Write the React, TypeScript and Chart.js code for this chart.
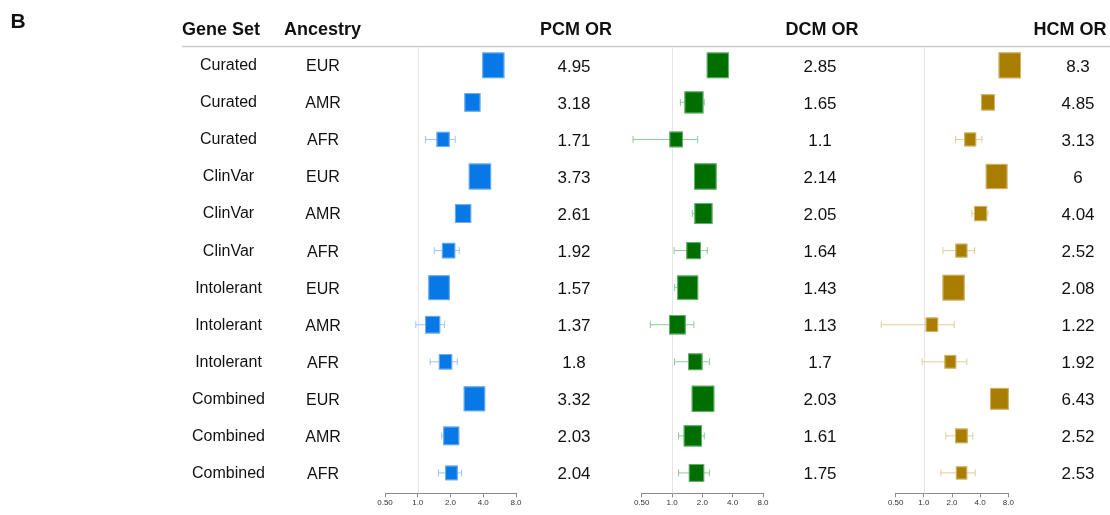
import { useEffect, useRef } from "react";
import { Chart, registerables } from "chart.js";

Chart.register(...registerables);

// ---------- data ----------
const geneSets = [
  "Curated", "Curated", "Curated",
  "ClinVar", "ClinVar", "ClinVar",
  "Intolerant", "Intolerant", "Intolerant",
  "Combined", "Combined", "Combined",
];
const ancestries = ["EUR", "AMR", "AFR", "EUR", "AMR", "AFR", "EUR", "AMR", "AFR", "EUR", "AMR", "AFR"];

const pcmOR = [4.95, 3.18, 1.71, 3.73, 2.61, 1.92, 1.57, 1.37, 1.8, 3.32, 2.03, 2.04];
const pcmLow = [4.5, 2.9, 1.18, 3.4, 2.35, 1.42, 1.42, 0.96, 1.3, 3.0, 1.66, 1.55];
const pcmHigh = [5.45, 3.5, 2.21, 4.1, 2.9, 2.41, 1.73, 1.76, 2.31, 3.65, 2.38, 2.53];
const pcmWeight = [0.98, 0.71, 0.58, 0.99, 0.72, 0.59, 0.95, 0.67, 0.59, 0.95, 0.71, 0.56];
const pcmLabels = ["4.95", "3.18", "1.71", "3.73", "2.61", "1.92", "1.57", "1.37", "1.8", "3.32", "2.03", "2.04"];

const dcmOR = [2.85, 1.65, 1.1, 2.14, 2.05, 1.64, 1.43, 1.13, 1.7, 2.03, 1.61, 1.75];
const dcmLow = [2.6, 1.21, 0.41, 1.95, 1.59, 1.05, 1.06, 0.61, 1.06, 1.85, 1.16, 1.16];
const dcmHigh = [3.1, 2.09, 1.8, 2.35, 2.45, 2.24, 1.78, 1.65, 2.35, 2.25, 2.09, 2.35];
const dcmWeight = [0.98, 0.84, 0.6, 1.0, 0.8, 0.65, 0.93, 0.74, 0.64, 1.0, 0.81, 0.68];
const dcmLabels = ["2.85", "1.65", "1.1", "2.14", "2.05", "1.64", "1.43", "1.13", "1.7", "2.03", "1.61", "1.75"];

const hcmOR = [8.3, 4.85, 3.13, 6, 4.04, 2.52, 2.08, 1.22, 1.92, 6.43, 2.52, 2.53];
const hcmLow = [7.6, 4.2, 2.18, 5.5, 3.26, 1.6, 1.9, 0.35, 0.96, 5.9, 1.72, 1.52];
const hcmHigh = [9.0, 5.5, 4.17, 6.5, 4.83, 3.48, 2.28, 2.11, 2.88, 7.0, 3.34, 3.54];
const hcmWeight = [0.99, 0.62, 0.53, 0.96, 0.58, 0.53, 0.98, 0.55, 0.52, 0.83, 0.56, 0.5];
const hcmLabels = ["8.3", "4.85", "3.13", "6", "4.04", "2.52", "2.08", "1.22", "1.92", "6.43", "2.52", "2.53"];

const tickValues = [0.5, 1, 2, 4, 8];
const tickLabels = ["0.50", "1.0", "2.0", "4.0", "8.0"];

// ---------- layout / style ----------
const W = 1110;
const H = 515;
const FONT = '"Liberation Sans", Arial, Helvetica, sans-serif';
const BOX_BASE = 22.6;

type Panel = {
  title: string;
  or: number[];
  low: number[];
  high: number[];
  weight: number[];
  labels: string[];
  left: number;
  right: number;
  titleX: number;
  valueX: number;
  color: string;
  light: string;
};

const panels: Panel[] = [
  {
    title: "PCM OR", or: pcmOR, low: pcmLow, high: pcmHigh, weight: pcmWeight, labels: pcmLabels,
    left: 385, right: 516, titleX: 576, valueX: 574, color: "#0878E6", light: "#9cc4f2",
  },
  {
    title: "DCM OR", or: dcmOR, low: dcmLow, high: dcmHigh, weight: dcmWeight, labels: dcmLabels,
    left: 641.7, right: 763, titleX: 822, valueX: 820, color: "#006F00", light: "#8ccc9a",
  },
  {
    title: "HCM OR", or: hcmOR, low: hcmLow, high: hcmHigh, weight: hcmWeight, labels: hcmLabels,
    left: 895.7, right: 1008.3, titleX: 1070, valueX: 1078, color: "#A87D00", light: "#e2cc98",
  },
];

function makePlugin(p: Panel, first: boolean) {
  return {
    id: "forest" + p.title.replace(/\s/g, ""),
    beforeDatasetsDraw(chart: any) {
      const ctx = chart.ctx;
      const xs = chart.scales.x;
      const area = chart.chartArea;
      const x1 = Math.round(xs.getPixelForValue(1)) + 0.5;
      ctx.save();
      ctx.strokeStyle = "#e4e4e4";
      ctx.lineWidth = 1;
      ctx.beginPath();
      ctx.moveTo(x1, area.top);
      ctx.lineTo(x1, area.bottom);
      ctx.stroke();
      ctx.restore();
    },
    afterDatasetsDraw(chart: any) {
      const ctx = chart.ctx;
      const xs = chart.scales.x;
      const meta = chart.getDatasetMeta(0);
      ctx.save();
      meta.data.forEach((el: any, i: number) => {
        const cx = el.x;
        const cy = el.y;
        const lo = xs.getPixelForValue(p.low[i]);
        const hi = xs.getPixelForValue(p.high[i]);
        // whisker
        ctx.strokeStyle = p.light;
        ctx.lineWidth = 1;
        ctx.beginPath();
        ctx.moveTo(lo, cy);
        ctx.lineTo(hi, cy);
        ctx.moveTo(lo, cy - 3.5);
        ctx.lineTo(lo, cy + 3.5);
        ctx.moveTo(hi, cy - 3.5);
        ctx.lineTo(hi, cy + 3.5);
        ctx.stroke();
        // box
        const bw = p.weight[i] * BOX_BASE;
        const bh = bw * 1.16;
        ctx.fillStyle = p.color;
        ctx.fillRect(cx - bw / 2, cy - bh / 2, bw, bh);
        ctx.strokeStyle = p.light;
        ctx.globalAlpha = 0.7;
        ctx.strokeRect(cx - bw / 2 + 0.5, cy - bh / 2 + 0.5, bw - 1, bh - 1);
        ctx.globalAlpha = 1;
      });
      ctx.restore();
    },
    afterDraw(chart: any) {
      const ctx = chart.ctx;
      const ys = chart.scales.y;
      ctx.save();
      ctx.fillStyle = "#111";
      ctx.textBaseline = "middle";
      ctx.textAlign = "center";
      // header
      ctx.font = `bold 18px ${FONT}`;
      ctx.fillText(p.title, p.titleX, 30);
      // values
      ctx.font = `17px ${FONT}`;
      p.labels.forEach((t, i) => {
        ctx.fillText(t, p.valueX, ys.getPixelForValue(i) + 1.5);
      });
      if (first) {
        ctx.font = `bold 21px ${FONT}`;
        ctx.fillText("B", 18, 22);
        ctx.font = `bold 18px ${FONT}`;
        ctx.textAlign = "left";
        ctx.fillText("Gene Set", 182, 30);
        ctx.fillText("Ancestry", 284, 30);
        ctx.textAlign = "center";
        ctx.font = `16px ${FONT}`;
        geneSets.forEach((g, i) => {
          ctx.fillText(g, 228.5, ys.getPixelForValue(i) + 0.5);
        });
        ancestries.forEach((a, i) => {
          ctx.fillText(a, 323, ys.getPixelForValue(i) + 1.5);
        });
        // header rule
        ctx.strokeStyle = "#cccccc";
        ctx.lineWidth = 1.5;
        ctx.beginPath();
        ctx.moveTo(182, 46.5);
        ctx.lineTo(W, 46.5);
        ctx.stroke();
      }
      ctx.restore();
    },
  };
}

function makeConfig(p: Panel, first: boolean): any {
  return {
    type: "scatter",
    data: {
      datasets: [
        {
          data: p.or.map((v, i) => ({ x: v, y: i })),
          pointRadius: 0,
          pointHoverRadius: 0,
          showLine: false,
        },
      ],
    },
    options: {
      responsive: false,
      animation: false,
      devicePixelRatio: 1,
      events: [],
      layout: { padding: { left: p.left, right: W - p.right, top: 46.8, bottom: 0 } },
      plugins: { legend: { display: false }, tooltip: { enabled: false } },
      scales: {
        x: {
          type: "logarithmic",
          min: 0.5,
          max: 8,
          position: "bottom",
          afterBuildTicks: (s: any) => {
            s.ticks = tickValues.map((v) => ({ value: v }));
          },
          afterFit: (s: any) => {
            s.height = H - 493.3;
          },
          ticks: {
            callback: (_v: any, i: number) => tickLabels[i],
            autoSkip: false,
            maxRotation: 0,
            minRotation: 0,
            font: { family: FONT, size: 8 },
            color: "#333",
            padding: 1,
          },
          grid: { drawOnChartArea: false, drawTicks: true, tickLength: 4, color: "#8a8a8a" },
          border: { display: true, color: "#8a8a8a", width: 1 },
        },
        y: { type: "linear", display: false, min: -0.5, max: 11.55, reverse: true },
      },
    },
    plugins: [makePlugin(p, first)],
  };
}

export default function App() {
  const r0 = useRef<HTMLCanvasElement>(null);
  const r1 = useRef<HTMLCanvasElement>(null);
  const r2 = useRef<HTMLCanvasElement>(null);

  useEffect(() => {
    const refs = [r0, r1, r2];
    const charts = panels.map((p, k) => new Chart(refs[k].current as HTMLCanvasElement, makeConfig(p, k === 0)));
    return () => charts.forEach((c) => c.destroy());
  }, []);

  const cs: any = { position: "absolute", left: 0, top: 0, width: W, height: H };
  return (
    <div style={{ position: "fixed", left: 0, top: 0, width: W, height: H, background: "#fff" }}>
      <canvas ref={r0} width={W} height={H} style={cs} />
      <canvas ref={r1} width={W} height={H} style={cs} />
      <canvas ref={r2} width={W} height={H} style={cs} />
    </div>
  );
}
